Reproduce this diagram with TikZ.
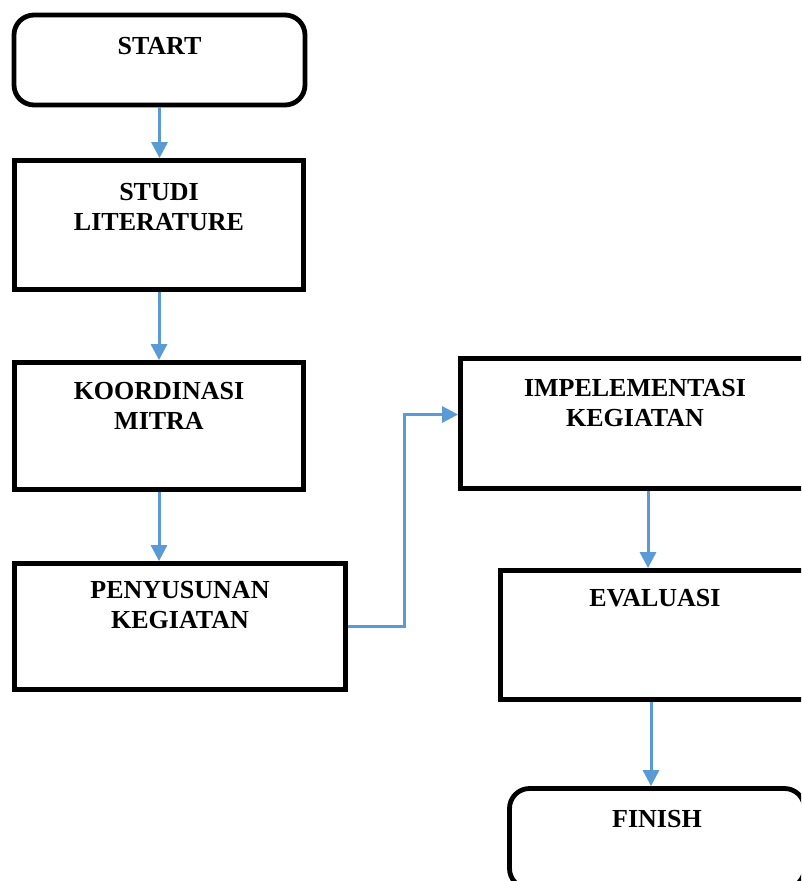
\documentclass[tikz,border=0pt]{standalone}
\usepackage{fontspec}
\setmainfont{Liberation Serif}
\usetikzlibrary{arrows.meta, positioning, calc}
\definecolor{cblue}{HTML}{5B9BD5}
\tikzset{
  box/.style={draw=black, line width=4.8pt, inner sep=0pt},
  term/.style={box, rounded corners=20pt},
  lbl/.style={font=\fontsize{26}{30}\selectfont\bfseries, align=center, anchor=north, inner sep=0pt},
  arrow/.style={draw=cblue, line width=3pt, -{Triangle[length=16pt, width=16pt]}},
}

\begin{document}
\begin{tikzpicture}[x=1pt, y=-1pt]
  \useasboundingbox (0,0) rectangle (801,881);
  \clip (0,0) rectangle (801,881);
  % left column
  \node[term, minimum width=291pt, minimum height=90pt] (start) at (159.5,60) {};
  \node[box, minimum width=289pt, minimum height=129pt] (studi) at (159,225) {};
  \node[box, minimum width=289pt, minimum height=127pt] (koord) at (159,426) {};
  \node[box, minimum width=331pt, minimum height=126pt] (peny) at (180,626.5) {};
  % right column
  \node[box, minimum width=349pt, minimum height=130pt] (impl) at (635,423.5) {};
  \node[box, minimum width=309pt, minimum height=129pt] (eval) at (655,635) {};
  \node[term, minimum width=295pt, minimum height=100pt] (finish) at (657,838.5) {};
  % texts
  \node[lbl] (startt) at ($(start.north)+(0,24)$) {START};
  \node[lbl] (studit) at ($(studi.north)+(0,25)$) {STUDI\\LITERATURE};
  \node[lbl] (koordt) at ($(koord.north)+(0,22)$) {KOORDINASI\\MITRA};
  \node[lbl] (penyt) at ($(peny.north)+(0,20)$) {PENYUSUNAN\\KEGIATAN};
  \node[lbl] (implt) at ($(impl.north)+(0,23)$) {IMPELEMENTASI\\KEGIATAN};
  \node[lbl] (evalt) at ($(eval.north)+(0,21)$) {EVALUASI};
  \node[lbl] (finisht) at ($(finish.north)+(0,24)$) {FINISH};
  % connectors
  \coordinate (ie) at ([xshift=13pt]impl.south);
  \coordinate (ef) at ([xshift=-4pt]eval.south);
  \draw[arrow] (start.south) -- (start.south |- studi.north);
  \draw[arrow] (studi.south) -- (studi.south |- koord.north);
  \draw[arrow] (koord.south) -- (koord.south |- peny.north);
  \draw[arrow] (peny.east) -- ++(57,0) |- ([yshift=9pt]impl.west);
  \draw[arrow] (ie) -- (ie |- eval.north);
  \draw[arrow] (ef) -- (ef |- finish.north);
\end{tikzpicture}
\end{document}
